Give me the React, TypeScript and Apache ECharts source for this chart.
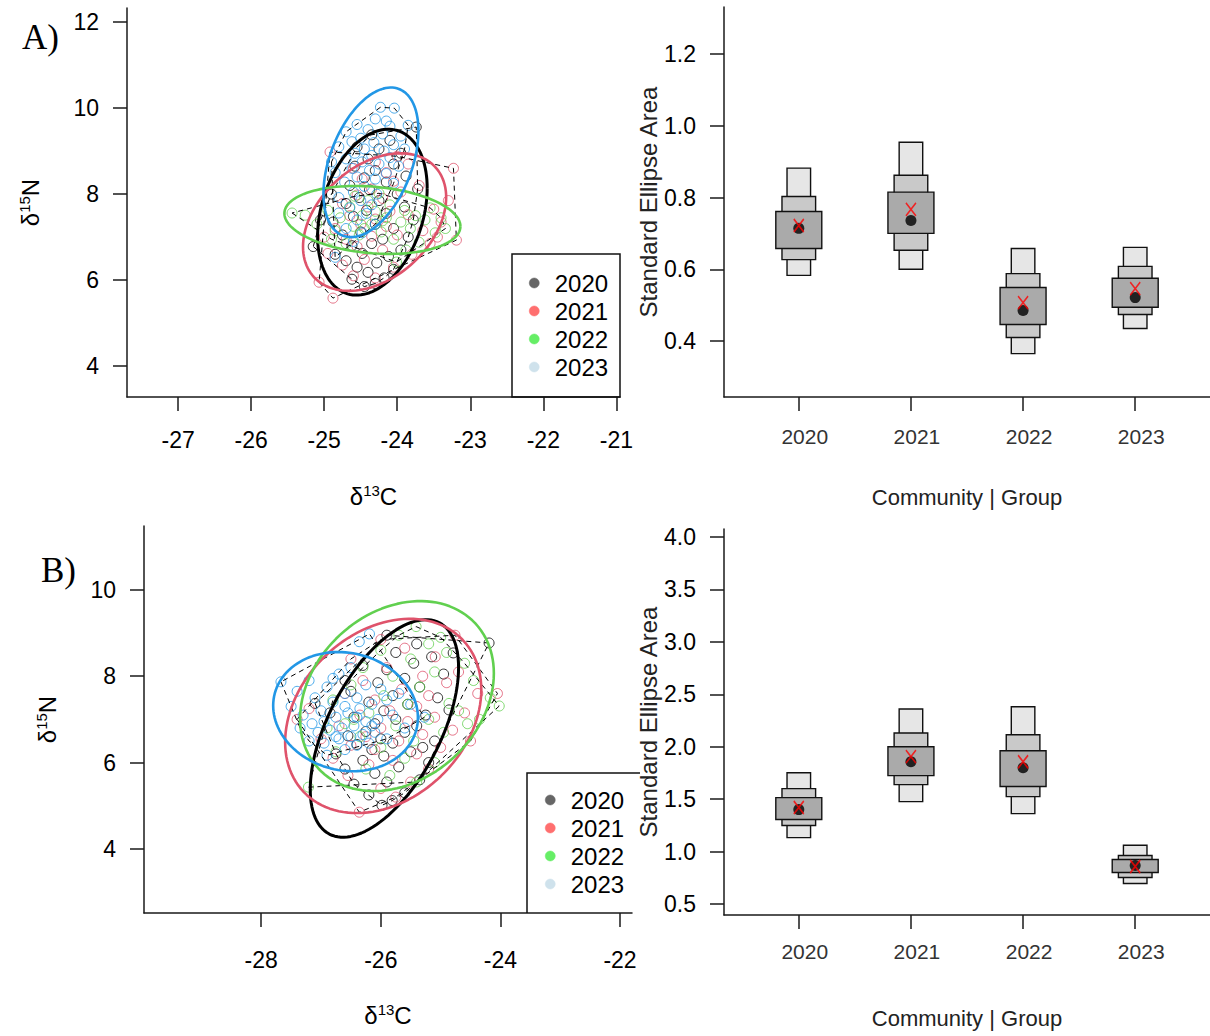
import React, { useEffect, useRef } from "react";
import * as echarts from "echarts";

const YEARS = ["2020", "2021", "2022", "2023"];
const COLORS = ["#000000", "#DF536B", "#61D04F", "#2297E6"];
const LEGEND_COLORS = ["#666666", "#FF6F6F", "#66EE66", "#CFE2EC"];

// Panel A isotope points [d13C, d15N]
const A_2020 = [[-24.45,5.85],[-24.30,5.92],[-24.62,6.02],[-24.18,6.05],[-24.40,6.18],[-24.55,6.30],[-24.05,6.25],[-24.70,6.45],[-24.28,6.40],[-24.12,6.55],[-24.85,6.60],[-24.48,6.62],[-23.95,6.70],[-24.62,6.80],[-24.35,6.85],[-25.15,6.78],[-24.20,6.95],[-24.75,7.05],[-23.85,7.00],[-24.50,7.12],[-24.05,7.20],[-24.30,7.30],[-24.88,7.35],[-23.78,7.40],[-24.60,7.48],[-24.15,7.55],[-24.42,7.62],[-23.90,7.70],[-24.70,7.78],[-24.25,7.85],[-24.52,7.92],[-24.00,8.00],[-24.38,8.10],[-23.72,8.12],[-24.65,8.20],[-24.15,8.28],[-24.45,8.38],[-23.88,8.42],[-24.30,8.55],[-24.58,8.65],[-24.05,8.70],[-24.40,8.82],[-23.95,8.95],[-24.25,9.05],[-24.55,9.10],[-24.10,9.25],[-23.74,9.56],[-24.35,9.38],[-24.90,8.00],[-25.05,7.40]];
const A_2021 = [[-24.88,5.58],[-25.07,5.95],[-24.60,6.10],[-24.30,6.05],[-24.05,6.30],[-24.75,6.35],[-24.45,6.48],[-23.80,6.60],[-24.95,6.62],[-24.20,6.70],[-24.55,6.78],[-23.55,6.85],[-23.19,6.93],[-24.70,6.95],[-24.35,7.02],[-24.00,7.05],[-23.65,7.15],[-24.85,7.20],[-24.15,7.25],[-24.50,7.30],[-23.40,7.35],[-24.30,7.42],[-24.65,7.50],[-23.85,7.52],[-24.10,7.60],[-23.50,7.65],[-24.40,7.70],[-24.75,7.78],[-23.30,7.85],[-24.20,7.90],[-24.55,7.98],[-23.95,8.05],[-24.35,8.12],[-23.70,8.20],[-24.05,8.30],[-24.48,8.35],[-23.23,8.60],[-24.15,8.50],[-24.92,8.98],[-24.60,8.60],[-23.85,8.70],[-24.30,8.75],[-24.00,8.88],[-25.00,7.00],[-23.45,7.00]];
const A_2022 = [[-25.44,7.56],[-25.26,7.51],[-25.10,7.30],[-24.95,7.62],[-24.85,7.15],[-24.78,7.45],[-24.65,7.70],[-24.60,7.25],[-24.52,7.05],[-24.48,7.50],[-24.40,7.85],[-24.35,7.30],[-24.30,7.60],[-24.22,7.12],[-24.15,7.45],[-24.10,7.75],[-24.05,6.95],[-24.01,6.42],[-23.95,7.35],[-23.90,7.62],[-23.82,7.20],[-23.75,7.50],[-23.70,6.88],[-23.62,7.40],[-23.55,7.68],[-23.48,7.10],[-23.40,7.45],[-23.34,7.20],[-24.70,6.85],[-24.25,8.02],[-24.58,7.95],[-23.88,6.70],[-24.90,6.95],[-24.45,7.20],[-24.20,7.38]];
const A_2023 = [[-24.23,10.02],[-24.04,10.00],[-24.30,9.75],[-24.55,9.62],[-24.10,9.58],[-24.40,9.50],[-24.70,9.45],[-24.20,9.40],[-23.95,9.35],[-24.50,9.30],[-24.62,9.22],[-24.32,9.20],[-24.05,9.15],[-24.80,9.10],[-24.45,9.05],[-24.18,9.00],[-23.90,9.05],[-24.58,8.95],[-24.35,8.90],[-24.70,8.82],[-24.10,8.85],[-24.48,8.75],[-24.25,8.70],[-23.98,8.65],[-24.62,8.60],[-24.38,8.55],[-24.85,8.50],[-24.15,8.48],[-24.55,8.40],[-24.30,8.35],[-24.72,8.28],[-24.05,8.25],[-24.45,8.18],[-24.60,8.05],[-24.28,8.00],[-24.80,7.92],[-24.50,7.85],[-24.35,7.75],[-24.65,7.68],[-24.80,7.56],[-24.42,7.55],[-24.55,7.40],[-24.30,7.30],[-24.70,7.20],[-24.48,7.10],[-24.85,6.53],[-24.60,6.90],[-24.90,8.75],[-24.15,9.70],[-23.85,9.60]];

// Panel B isotope points
const B_2020 = [[-25.98,5.01],[-25.81,5.12],[-26.20,5.25],[-25.60,5.30],[-26.45,5.50],[-25.90,5.55],[-25.35,5.60],[-26.10,5.75],[-26.60,5.85],[-25.70,5.90],[-25.20,6.00],[-26.30,6.05],[-25.95,6.15],[-26.75,6.20],[-25.50,6.25],[-26.15,6.30],[-26.40,6.42],[-25.80,6.45],[-25.10,6.50],[-26.00,6.55],[-26.55,6.62],[-25.60,6.70],[-26.25,6.72],[-24.86,7.22],[-25.40,6.85],[-26.10,6.90],[-25.75,7.00],[-26.45,7.05],[-25.25,7.10],[-26.85,7.15],[-25.95,7.20],[-25.55,7.35],[-26.20,7.40],[-27.10,7.37],[-25.05,7.50],[-25.80,7.55],[-26.50,7.65],[-25.35,7.75],[-26.05,7.85],[-25.60,7.95],[-24.95,8.05],[-25.90,8.15],[-26.30,8.25],[-25.45,8.30],[-25.15,8.45],[-24.79,8.54],[-25.75,8.55],[-25.90,8.95],[-25.40,8.75],[-24.19,8.77],[-26.60,7.90],[-25.30,6.35]];
const B_2021 = [[-26.36,4.85],[-26.00,5.40],[-25.50,5.55],[-26.55,5.70],[-25.20,5.85],[-26.20,5.95],[-25.80,6.05],[-26.80,6.10],[-25.40,6.20],[-26.10,6.30],[-25.00,6.35],[-26.50,6.40],[-25.70,6.50],[-27.00,6.55],[-26.25,6.60],[-25.30,6.65],[-24.80,6.75],[-26.00,6.80],[-26.70,6.85],[-25.55,6.95],[-25.10,7.05],[-26.35,7.10],[-24.60,7.15],[-25.85,7.20],[-27.20,7.25],[-25.40,7.30],[-24.38,7.60],[-24.05,7.60],[-26.10,7.45],[-25.20,7.55],[-26.60,7.60],[-25.65,7.70],[-24.90,7.85],[-26.30,7.90],[-25.30,8.00],[-24.70,8.10],[-25.90,8.20],[-25.09,8.45],[-26.50,8.40],[-24.76,8.95],[-25.60,8.65],[-26.00,8.85],[-27.40,7.00],[-24.50,6.50],[-25.75,5.20]];
const B_2022 = [[-25.41,9.15],[-25.70,8.95],[-25.20,8.75],[-26.00,8.60],[-24.90,8.55],[-25.50,8.40],[-24.60,8.30],[-26.30,8.20],[-25.10,8.10],[-25.80,8.00],[-24.45,7.90],[-26.50,7.80],[-25.35,7.75],[-24.86,7.37],[-24.17,7.50],[-24.02,7.31],[-25.95,7.55],[-26.80,7.45],[-25.55,7.35],[-24.70,7.20],[-26.20,7.15],[-25.20,7.00],[-26.60,6.90],[-25.75,6.85],[-24.95,6.70],[-26.35,6.60],[-25.45,6.50],[-26.00,6.35],[-26.75,6.25],[-25.60,6.10],[-25.10,6.00],[-26.25,5.85],[-25.85,5.70],[-27.21,5.43],[-25.40,5.55],[-24.55,6.90],[-26.90,6.80],[-25.00,8.90],[-24.35,7.00],[-26.45,7.00]];
const B_2023 = [[-27.67,7.87],[-27.40,7.65],[-27.20,7.90],[-27.50,7.30],[-27.10,7.50],[-26.90,7.75],[-27.30,7.10],[-27.00,7.20],[-26.80,7.40],[-26.60,7.60],[-26.19,8.98],[-26.36,8.80],[-26.50,8.20],[-26.70,8.05],[-27.15,6.90],[-26.95,6.95],[-26.75,7.05],[-26.55,7.15],[-26.35,7.25],[-26.15,7.35],[-25.90,7.45],[-27.05,6.70],[-26.85,6.75],[-26.65,6.80],[-26.45,6.85],[-26.25,6.95],[-26.05,7.00],[-25.80,7.10],[-27.20,6.50],[-26.95,6.45],[-26.70,6.55],[-26.50,6.60],[-26.30,6.65],[-26.10,6.70],[-25.60,6.80],[-26.90,6.17],[-26.60,6.30],[-26.40,6.40],[-26.20,6.45],[-25.90,6.55],[-25.27,7.05],[-25.50,7.35],[-26.00,7.70],[-26.40,7.50],[-27.35,6.80],[-26.80,7.95],[-26.25,7.80],[-25.70,7.60],[-26.60,7.30],[-26.40,7.05],[-26.15,6.85],[-26.75,6.60]];

const A_POINTS = [A_2020, A_2021, A_2022, A_2023];
const B_POINTS = [B_2020, B_2021, B_2022, B_2023];

// Standard ellipses: [centre d13C, centre d15N, sd x, sd y, correlation]
const A_ELLIPSES = [
  [-24.34, 7.58, 0.75, 1.93, 0.29],
  [-24.31, 7.35, 0.98, 1.60, 0.36],
  [-24.34, 7.40, 1.205, 0.79, -0.19],
  [-24.36, 8.74, 0.65, 1.74, 0.42],
];
const B_ELLIPSES = [
  [-25.94, 6.79, 1.24, 2.52, 0.56],
  [-25.96, 7.08, 1.64, 2.25, 0.27],
  [-25.73, 7.54, 1.62, 2.20, 0.24],
  [-26.59, 7.18, 1.21, 1.38, -0.10],
];

// Axis ticks
const A_X_TICKS = [-27, -26, -25, -24, -23, -22, -21];
const A_Y_TICKS = [4, 6, 8, 10, 12];
const B_X_TICKS = [-28, -26, -24, -22];
const B_Y_TICKS = [4, 6, 8, 10];
const SEA_A_TICKS = [0.4, 0.6, 0.8, 1.0, 1.2];
const SEA_B_TICKS = [0.5, 1.0, 1.5, 2.0, 2.5, 3.0, 3.5, 4.0];
const GROUP_TICKS = [1, 2, 3, 4];

// Standard ellipse area posterior credible intervals (95%, 75%, 50%), mode and SEAc
const SEA_A_95_LO = [0.583, 0.600, 0.365, 0.435];
const SEA_A_95_HI = [0.882, 0.954, 0.658, 0.661];
const SEA_A_75_LO = [0.627, 0.653, 0.410, 0.474];
const SEA_A_75_HI = [0.803, 0.862, 0.588, 0.608];
const SEA_A_50_LO = [0.658, 0.700, 0.446, 0.494];
const SEA_A_50_HI = [0.761, 0.815, 0.549, 0.575];
const SEA_A_MODE = [0.714, 0.736, 0.485, 0.521];
const SEA_A_SEAC = [0.722, 0.767, 0.507, 0.546];

const SEA_B_95_LO = [1.133, 1.476, 1.362, 0.695];
const SEA_B_95_HI = [1.752, 2.360, 2.381, 1.060];
const SEA_B_75_LO = [1.248, 1.638, 1.524, 0.752];
const SEA_B_75_HI = [1.600, 2.130, 2.114, 0.962];
const SEA_B_50_LO = [1.305, 1.724, 1.620, 0.800];
const SEA_B_50_HI = [1.514, 2.000, 1.962, 0.924];
const SEA_B_MODE = [1.400, 1.857, 1.800, 0.867];
const SEA_B_SEAC = [1.420, 1.905, 1.857, 0.857];

const SANS = "'Liberation Sans', Arial, sans-serif";
const SERIF = "'Liberation Serif', 'Times New Roman', serif";
const AXIS_COLOR = "#1a1a1a";

function convexHull(pts: number[][]) {
  const p = pts.slice().sort((a, b) => a[0] - b[0] || a[1] - b[1]);
  const cross = (o: number[], a: number[], b: number[]) =>
    (a[0] - o[0]) * (b[1] - o[1]) - (a[1] - o[1]) * (b[0] - o[0]);
  const lower: number[][] = [];
  for (const q of p) {
    while (lower.length >= 2 && cross(lower[lower.length - 2], lower[lower.length - 1], q) <= 0) lower.pop();
    lower.push(q);
  }
  const upper: number[][] = [];
  for (let i = p.length - 1; i >= 0; i--) {
    const q = p[i];
    while (upper.length >= 2 && cross(upper[upper.length - 2], upper[upper.length - 1], q) <= 0) upper.pop();
    upper.push(q);
  }
  upper.pop();
  lower.pop();
  const h = lower.concat(upper);
  h.push(h[0]);
  return h;
}

function ellipsePoints(e: number[]) {
  const [cx, cy, sx, sy, rho] = e;
  const out: number[][] = [];
  const n = 120;
  const k = Math.sqrt(1 - rho * rho);
  for (let i = 0; i <= n; i++) {
    const t = (2 * Math.PI * i) / n;
    out.push([cx + sx * Math.cos(t), cy + sy * (rho * Math.cos(t) + k * Math.sin(t))]);
  }
  return out;
}

function isoName(el: string, mass: string) {
  return `{d|δ}{s|${mass}}{d|${el}}`;
}

const nameRich = {
  d: { fontSize: 24, fontFamily: SANS, color: "#000", lineHeight: 27 },
  s: { fontSize: 15, fontFamily: SANS, color: "#000", verticalAlign: "top", lineHeight: 15 },
};

function scatterAxes(gi: number, xr: number[], yr: number[], xt: number[], yt: number[], xMargin: number, xNameGap: number) {
  const line = { show: true, onZero: false, lineStyle: { color: AXIS_COLOR, width: 1.5 } };
  const x = {
    gridIndex: gi, type: "value", min: xr[0], max: xr[1],
    axisLine: line,
    axisTick: { show: true, length: 14, customValues: xt, lineStyle: { color: AXIS_COLOR, width: 1.5 } },
    axisLabel: { customValues: xt, margin: xMargin, fontSize: 23, color: "#000", fontFamily: SANS },
    splitLine: { show: false },
    name: isoName("C", "13"), nameLocation: "middle", nameGap: xNameGap,
    nameTextStyle: { rich: nameRich },
  };
  const y = {
    gridIndex: gi, type: "value", min: yr[0], max: yr[1],
    axisLine: line,
    axisTick: { show: true, length: 14, customValues: yt, lineStyle: { color: AXIS_COLOR, width: 1.5 } },
    axisLabel: { customValues: yt, margin: 28, fontSize: 23, color: "#000", fontFamily: SANS },
    splitLine: { show: false },
    name: isoName("N", "15"), nameLocation: "middle", nameGap: 83,
    nameTextStyle: { rich: nameRich },
  };
  return { x, y };
}

function seaAxes(gi: number, yr: number[], yt: number[], xMargin: number, xNameGap: number) {
  const line = { show: true, onZero: false, lineStyle: { color: AXIS_COLOR, width: 1.5 } };
  const x = {
    gridIndex: gi, type: "value", min: 0.333, max: 4.667,
    axisLine: line,
    axisTick: { show: true, length: 14, customValues: GROUP_TICKS, lineStyle: { color: AXIS_COLOR, width: 1.5 } },
    axisLabel: {
      customValues: GROUP_TICKS, margin: xMargin, fontSize: 21, color: "#333", fontFamily: SANS,
      padding: [0, 0, 0, 12],
      formatter: (v: number) => YEARS[Math.round(v) - 1],
    },
    splitLine: { show: false },
    name: "Community | Group", nameLocation: "middle", nameGap: xNameGap,
    nameTextStyle: { fontSize: 22, fontFamily: SANS, color: "#222" },
  };
  const y = {
    gridIndex: gi, type: "value", min: yr[0], max: yr[1],
    axisLine: line,
    axisTick: { show: true, length: 14, customValues: yt, lineStyle: { color: AXIS_COLOR, width: 1.5 } },
    axisLabel: {
      customValues: yt, margin: 28, fontSize: 23, color: "#000", fontFamily: SANS,
      formatter: (v: number) => v.toFixed(1),
    },
    splitLine: { show: false },
    name: "Standard Ellipse Area", nameLocation: "middle", nameGap: 63,
    nameTextStyle: { fontSize: 24, fontFamily: SANS, color: "#222" },
  };
  return { x, y };
}

function scatterSeries(ai: number, pts: number[][][], ells: number[][], tag: string) {
  const s: any[] = [];
  pts.forEach((p, g) => {
    s.push({
      type: "scatter", name: YEARS[g], xAxisIndex: ai, yAxisIndex: ai, data: p,
      symbol: "circle", symbolSize: 10, z: 2, silent: true,
      itemStyle: { color: "rgba(0,0,0,0)", borderColor: COLORS[g], borderWidth: 1 },
    });
  });
  pts.forEach((p, g) => {
    s.push({
      type: "line", name: `${tag}-hull-${YEARS[g]}`, xAxisIndex: ai, yAxisIndex: ai,
      data: convexHull(p), symbol: "none", z: 3, silent: true,
      lineStyle: { color: "#000", width: 1, type: [5, 4] },
    });
  });
  ells.forEach((e, g) => {
    s.push({
      type: "line", name: `${tag}-ellipse-${YEARS[g]}`, xAxisIndex: ai, yAxisIndex: ai,
      data: ellipsePoints(e), symbol: "none", z: 4, silent: true,
      lineStyle: { color: COLORS[g], width: g === 0 ? 3 : 2.6 },
    });
  });
  return s;
}

function seaSeries(ai: number, lo95: number[], hi95: number[], lo75: number[], hi75: number[], lo50: number[], hi50: number[], mode: number[], seac: number[]) {
  const rows = YEARS.map((_, i) => [i + 1, lo95[i], hi95[i], lo75[i], hi75[i], lo50[i], hi50[i]]);
  const levels = [
    { lo: 1, hi: 2, hw: 0.105, fill: "#E6E6E6" },
    { lo: 3, hi: 4, hw: 0.15, fill: "#C9C9C9" },
    { lo: 5, hi: 6, hw: 0.205, fill: "#AAAAAA" },
  ];
  return [
    {
      type: "custom", xAxisIndex: ai, yAxisIndex: ai, data: rows, z: 2, silent: true,
      renderItem: (params: any, api: any) => {
        const c = api.value(0);
        return {
          type: "group",
          children: levels.map((L) => {
            const p1 = api.coord([c - L.hw, api.value(L.hi)]);
            const p2 = api.coord([c + L.hw, api.value(L.lo)]);
            return {
              type: "rect",
              shape: { x: p1[0], y: p1[1], width: p2[0] - p1[0], height: p2[1] - p1[1] },
              style: { fill: L.fill, stroke: "#111", lineWidth: 1.4 },
            };
          }),
        };
      },
    },
    {
      type: "scatter", xAxisIndex: ai, yAxisIndex: ai, z: 5, silent: true,
      data: mode.map((v, i) => [i + 1, v]), symbol: "circle", symbolSize: 11,
      itemStyle: { color: "#000" },
    },
    {
      type: "scatter", xAxisIndex: ai, yAxisIndex: ai, z: 6, silent: true,
      data: seac.map((v, i) => [i + 1, v]), symbol: "path://M0 0L10 13M10 0L0 13", symbolSize: [10, 13],
      itemStyle: { color: "rgba(0,0,0,0)", borderColor: "#FF0000", borderWidth: 1.7 },
    },
  ];
}

function legendOf(left: number, top: number) {
  return {
    orient: "vertical", left, top, padding: 0, itemGap: 4,
    itemWidth: 31, itemHeight: 10, selectedMode: false, symbolKeepAspect: true,
    textStyle: { fontSize: 24, fontFamily: SANS, color: "#000", lineHeight: 24 },
    data: YEARS.map((y, i) => ({
      name: y, icon: "circle",
      itemStyle: { color: LEGEND_COLORS[i], borderColor: LEGEND_COLORS[i], borderWidth: 0.5, opacity: 1 },
    })),
  };
}

export default function App() {
  const ref = useRef<HTMLDivElement>(null);
  useEffect(() => {
    if (!ref.current) return;
    const chart = echarts.init(ref.current, undefined, { renderer: "svg" });
    const aS = scatterAxes(0, [-27.70, -20.95], [3.28, 12.33], A_X_TICKS, A_Y_TICKS, 31, 86);
    const aE = seaAxes(1, [0.244, 1.331], SEA_A_TICKS, 29, 89);
    const bS = scatterAxes(2, [-29.96, -21.80], [2.515, 11.48], B_X_TICKS, B_Y_TICKS, 35, 89);
    const bE = seaAxes(3, [0.395, 4.076], SEA_B_TICKS, 26, 92);
    const option: any = {
      animation: false,
      backgroundColor: "#ffffff",
      grid: [
        { left: 127, top: 8, width: 493, height: 389 },
        { left: 724, top: 7, width: 494, height: 390 },
        { left: 144, top: 526, width: 488, height: 387 },
        { left: 724, top: 529, width: 494, height: 386 },
      ],
      xAxis: [aS.x, aE.x, bS.x, bE.x],
      yAxis: [aS.y, aE.y, bS.y, bE.y],
      legend: [legendOf(529, 271), legendOf(545, 788)],
      graphic: [
        { type: "rect", z: 1, shape: { x: 512, y: 254, width: 108, height: 143 }, style: { fill: "none", stroke: "#111", lineWidth: 1.5 } },
        { type: "polyline", z: 1, shape: { points: [[527, 913], [527, 773], [640, 773]] }, style: { fill: "none", stroke: "#111", lineWidth: 1.5 } },
        { type: "text", left: 22, top: 20, style: { text: "A)", fontSize: 35, fontFamily: SERIF, fill: "#000" } },
        { type: "text", left: 41, top: 553, style: { text: "B)", fontSize: 35, fontFamily: SERIF, fill: "#000" } },
      ],
      series: [
        ...scatterSeries(0, A_POINTS, A_ELLIPSES, "A"),
        ...seaSeries(1, SEA_A_95_LO, SEA_A_95_HI, SEA_A_75_LO, SEA_A_75_HI, SEA_A_50_LO, SEA_A_50_HI, SEA_A_MODE, SEA_A_SEAC),
        ...scatterSeries(2, B_POINTS, B_ELLIPSES, "B"),
        ...seaSeries(3, SEA_B_95_LO, SEA_B_95_HI, SEA_B_75_LO, SEA_B_75_HI, SEA_B_50_LO, SEA_B_50_HI, SEA_B_MODE, SEA_B_SEAC),
      ],
    };
    chart.setOption(option);
    return () => chart.dispose();
  }, []);
  return (
    <div
      ref={ref}
      style={{ position: "absolute", left: 0, top: 0, width: 1210, height: 1036, background: "#fff" }}
    />
  );
}
